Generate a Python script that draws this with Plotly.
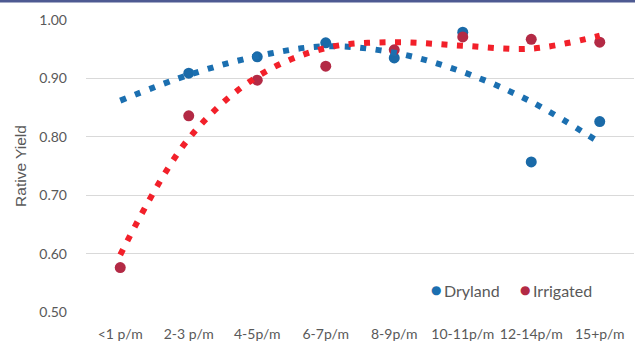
import plotly.graph_objects as go

categories = ["<1 p/m", "2-3 p/m", "4-5p/m", "6-7p/m", "8-9p/m", "10-11p/m", "12-14p/m", "15+p/m"]

dryland = [None, 0.909, 0.937, 0.961, 0.935, 0.979, 0.757, 0.826]
irrigated = [0.576, 0.836, 0.897, 0.921, 0.949, 0.971, 0.967, 0.962]

# trendline values read at each category
dryland_trend = [0.862, 0.906, 0.938, 0.955, 0.944, 0.911, 0.860, 0.790]
irrigated_trend = [0.598, 0.797, 0.903, 0.952, 0.962, 0.956, 0.951, 0.973]

y_ticks = [0.50, 0.60, 0.70, 0.80, 0.90, 1.00]

BLUE = "#1b6fb0"
BLUE_MK = "#1a6aa8"
RED = "#f2202a"
RED_MK = "#b32a45"
GRAY = "#595959"

fig = go.Figure()

fig.add_trace(go.Scatter(
    x=categories, y=dryland, mode="markers", name="Dryland",
    marker=dict(color=BLUE_MK, size=11), showlegend=False))
fig.add_trace(go.Scatter(
    x=categories, y=irrigated, mode="markers", name="Irrigated",
    marker=dict(color=RED_MK, size=11), showlegend=False))
fig.add_trace(go.Scatter(
    x=categories, y=dryland_trend, mode="lines", name="Dryland trend",
    line=dict(color=BLUE, width=6, dash="6px,9.5px", shape="spline", smoothing=1.0),
    showlegend=False))
fig.add_trace(go.Scatter(
    x=categories, y=irrigated_trend, mode="lines", name="Irrigated trend",
    line=dict(color=RED, width=6, dash="6px,9.5px", shape="spline", smoothing=1.0),
    showlegend=False))

W, H = 635, 345
ml, mr, mt, mb = 86, 1, 20, 32.5
pw, ph = W - ml - mr, H - mt - mb

fig.update_layout(
    width=W, height=H,
    margin=dict(l=ml, r=mr, t=mt, b=mb),
    paper_bgcolor="white", plot_bgcolor="white",
    font=dict(family="Lato, Open Sans, sans-serif", size=14, color=GRAY),
    xaxis=dict(
        type="category", range=[-0.5, 7.5], showgrid=False, zeroline=False,
        showline=False, ticks="", ticklabelstandoff=12,
        tickfont=dict(family="Lato, sans-serif", size=14, color=GRAY)),
    yaxis=dict(
        range=[0.5, 1.0], tickvals=y_ticks, tickformat=".2f",
        showgrid=True, gridcolor="#d9d9d9", gridwidth=1, zeroline=False,
        showline=False, ticks="", ticklabelstandoff=18,
        tickfont=dict(family="Lato, sans-serif", size=14, color=GRAY),
        title=dict(text="Rative Yield", standoff=8,
                   font=dict(family="Liberation Sans, Arial, sans-serif", size=15.5, color=GRAY))),
)

# top border stripe
fig.add_shape(type="rect", xref="paper", yref="paper",
              x0=-ml / pw, x1=1 + mr / pw, y0=1 + (mt - 2.5) / ph, y1=1 + mt / ph,
              fillcolor="#4e5a92", line=dict(width=0), layer="above")

# legend
def px_x(p):
    return (p - ml) / pw

def px_y(p):
    return 1 - (p - mt) / ph

legend_items = [("Dryland", BLUE, 436), ("Irrigated", RED_MK, 525)]
for name, col, xp in legend_items:
    fig.add_annotation(xref="paper", yref="paper", x=px_x(xp), y=px_y(290),
                       xanchor="center", yanchor="middle", showarrow=False,
                       text="●", font=dict(family="DejaVu Sans, sans-serif", size=12, color=col))
    fig.add_annotation(xref="paper", yref="paper", x=px_x(xp + 6), y=px_y(291),
                       xanchor="left", yanchor="middle", showarrow=False,
                       text=name,
                       font=dict(family="Lato, sans-serif", size=16, color=GRAY))

fig.write_html("out.html", config={"displayModeBar": False},
               post_script="document.body.style.margin='0';")
